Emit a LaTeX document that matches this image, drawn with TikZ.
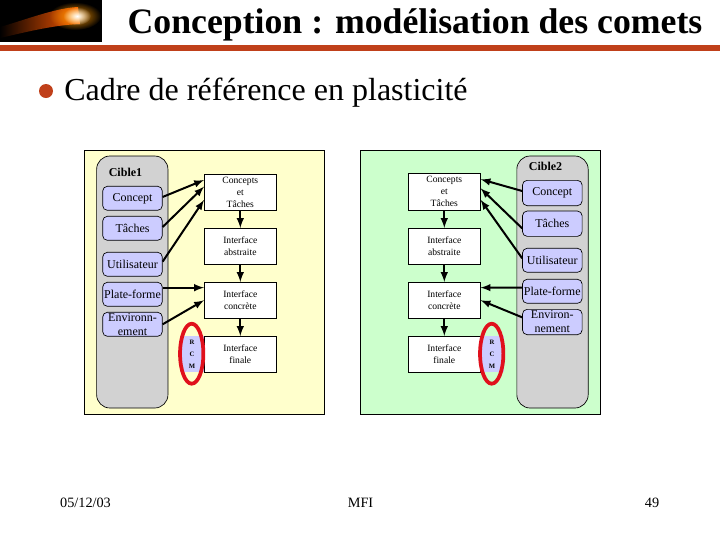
\documentclass[tikz,border=0pt]{standalone}
\usepackage{fontspec}
\setmainfont{Liberation Serif}
\usetikzlibrary{arrows,fadings,shapes.geometric}
\definecolor{rouille}{HTML}{C0401A}
\definecolor{jaune}{HTML}{FFFFCC}
\definecolor{vert}{HTML}{CCFFCC}
\definecolor{bleu}{HTML}{CCCCFF}
\definecolor{gris}{HTML}{D2D2D2}
\definecolor{rouge}{HTML}{E0101C}
\tikzfading[name=halo,inner color=transparent!0,outer color=transparent!100]
\tikzset{
  panneau/.style={draw,line width=0.5pt,inner sep=0pt},
  cible/.style={draw,fill=gris,rounded corners=10pt,line width=0.5pt,minimum width=53.5pt,minimum height=189pt,inner sep=0pt},
  modele/.style={draw,fill=bleu,rounded corners=3.5pt,line width=0.5pt,minimum width=44.7pt,minimum height=18pt,inner sep=0pt,align=center,font=\fontsize{9}{10.5}\selectfont},
  niveau/.style={draw,fill=white,line width=0.5pt,minimum width=54pt,minimum height=27pt,inner sep=0pt,align=center,font=\fontsize{7.2}{9}\selectfont},
  rcm/.style={fill=bleu,minimum width=18pt,minimum height=27pt,inner sep=0pt,align=center,font=\bfseries\fontsize{5}{9}\selectfont},
  anneau/.style={draw=rouge,line width=2.8pt,ellipse,minimum width=17.5pt,minimum height=45pt,inner sep=0pt},
  fleche/.style={->,>=latex,line width=1.5pt},
  pied/.style={font=\fontsize{10.7}{12}\selectfont,inner sep=0pt}
}
\begin{document}
\begin{tikzpicture}[x=0.75pt,y=-0.75pt]
\useasboundingbox (0,0) rectangle (720,540);
% bandeau
\fill[black] (0,0) rectangle (102,42);
\fill[orange!70!red,path fading=west] (0,27) .. controls (25,20) and (55,8) .. (78,7) -- (80,24) .. controls (55,25) and (30,31) .. (0,38) -- cycle;
\fill[orange!80!yellow,path fading=halo] (75,16) ellipse (26 and 14);
\fill[white,path fading=halo] (77,16) ellipse (14 and 9);
\fill[rouille] (0,45) rectangle (720,51);
\node[font=\bfseries\fontsize{26.8}{30}\selectfont,inner sep=0pt] (titre) at (415,24.5) {Conception : modélisation des comets};
\node[circle,fill=rouille,minimum size=10.5pt,inner sep=0pt] (puce) at (46,91) {};
\node[font=\fontsize{24}{27}\selectfont,inner sep=0pt,anchor=west] (cadre) at (64,93) {Cadre de référence en plasticité};
% cible 1
\node[panneau,fill=jaune,minimum width=179.5pt,minimum height=198pt] (fond1) at (204.3,282) {};
\node[cible] (gris1) at (132.3,282) {};
\node[font=\bfseries\fontsize{9}{10}\selectfont,inner sep=0pt] (nom1) at (125.5,172.5) {Cible1};
\node[modele] (cpt1) at (132.5,198.3) {Concept};
\node[modele] (tch1) at (132.5,228.3) {Tâches};
\node[modele] (uti1) at (132.5,264.3) {Utilisateur};
\node[modele] (pla1) at (132.5,294.3) {Plate-forme};
\node[modele] (env1) at (132.5,324.3) {Environn-\\ement};
\node[rcm] (rcm1) at (192,354.3) {R\\C\\M};
\node[niveau] (ct1) at (240.3,192.3) {Concepts\\et\\Tâches};
\node[niveau] (ia1) at (240.3,246.3) {Interface\\abstraite};
\node[niveau] (ic1) at (240.3,300.3) {Interface\\concrète};
\node[niveau] (if1) at (240.3,354.3) {Interface\\finale};
\node[anneau] (tour1) at (191.7,353.7) {};
\draw[fleche] ([yshift=1pt]cpt1.east) -- ([yshift=9.2pt]ct1.west);
\draw[fleche] ([yshift=1pt]tch1.east) -- ([yshift=4.2pt]ct1.west);
\draw[fleche] ([yshift=2pt]uti1.east) -- ([yshift=-5.8pt]ct1.west);
\draw[fleche] ([yshift=5pt]pla1.east) -- ([yshift=9.5pt]ic1.west);
\draw[fleche] (env1.east) -- (ic1.west);
\draw[fleche] (ct1) -- (ia1);
\draw[fleche] (ia1) -- (ic1);
\draw[fleche] (ic1) -- (if1);
% cible 2
\node[panneau,fill=vert,minimum width=180pt,minimum height=198pt] (fond2) at (480.2,282) {};
\node[cible] (gris2) at (552.5,282) {};
\node[font=\bfseries\fontsize{9}{10}\selectfont,inner sep=0pt] (nom2) at (545.5,166.5) {Cible2};
\node[modele,minimum height=19pt] (cpt2) at (552.3,193) {Concept};
\node[modele,minimum height=19pt] (tch2) at (552.3,223.7) {Tâches};
\node[modele] (uti2) at (552.3,260.3) {Utilisateur};
\node[modele] (pla2) at (552.3,291.3) {Plate-forme};
\node[modele,minimum height=19pt] (env2) at (552.3,322) {Environ-\\nement};
\node[rcm] (rcm2) at (492,354.3) {R\\C\\M};
\node[niveau,minimum height=28pt] (ct2) at (444.3,191.8) {Concepts\\et\\Tâches};
\node[niveau] (ia2) at (444.3,246.3) {Interface\\abstraite};
\node[niveau] (ic2) at (444.3,300.3) {Interface\\concrète};
\node[niveau] (if2) at (444.3,354.3) {Interface\\finale};
\node[anneau] (tour2) at (491.7,353.7) {};
\draw[fleche] ([yshift=1.5pt]cpt2.west) -- ([yshift=9.4pt]ct2.east);
\draw[fleche] ([yshift=-3.5pt]tch2.west) -- ([yshift=2.6pt]ct2.east);
\draw[fleche] ([yshift=1.5pt]uti2.west) -- ([yshift=-6pt]ct2.east);
\draw[fleche] ([yshift=2.7pt]pla2.west) -- ([yshift=9.5pt]ic2.east);
\draw[fleche] ([yshift=3.5pt]env2.west) -- (ic2.east);
\draw[fleche] (ct2) -- (ia2);
\draw[fleche] (ia2) -- (ic2);
\draw[fleche] (ic2) -- (if2);
% pied de page
\node[pied] (date) at (85.5,503) {05/12/03};
\node[pied] (mfi) at (360.5,503) {MFI};
\node[pied] (page) at (652,503) {49};
\end{tikzpicture}
\end{document}
